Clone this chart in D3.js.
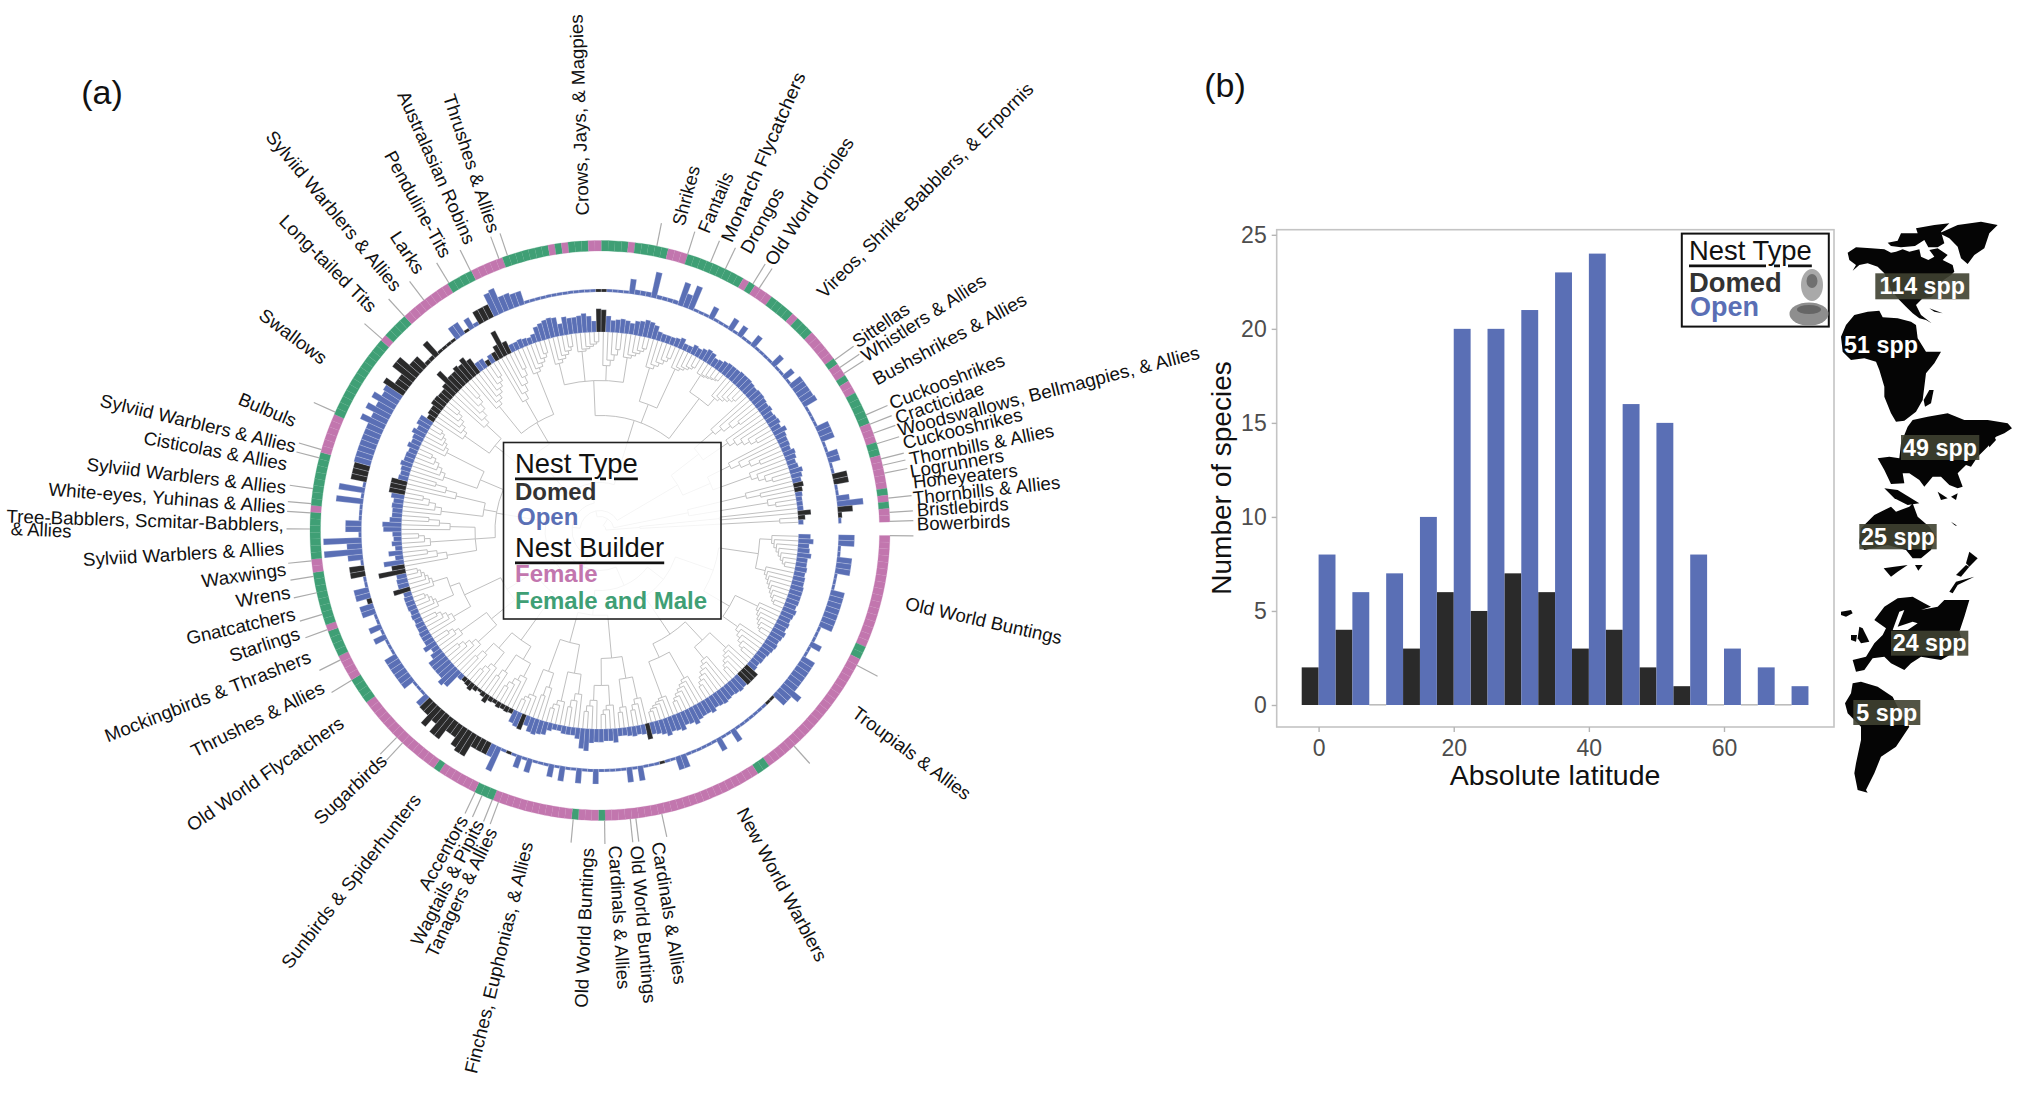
<!DOCTYPE html>
<html><head><meta charset="utf-8">
<script src="https://cdn.jsdelivr.net/npm/d3@7"></script>
<style>
html,body{margin:0;padding:0;background:#fff}
svg{display:block}
text{font-family:"Liberation Sans",Arial,sans-serif}
</style></head><body>
<svg id="c" width="2041" height="1103"></svg>
<script>
// ---------- panel (a): values per tip, clockwise from just below the gap ----------
const outerBar = [
16,16,3,3,15,15,15,3,3,3, 14,14,14,14,14,14,14,3,3,3,
12,3,3,14,14,14,14,14,14,23, 15,15,3,3,3,3,3,3,3,3,
3,14,3,3,14,3,3,3,3,3, 3,14,14,3,3,3,3,3,3,15,
3,15,3,3,3,3,3,15,3,3, 15,3,3,15,3,13,3,3,3,14,
3,13,3,3,3,26,13,13,13,13, 25,25,22,14,14,25,25,15,24,14,
14,13,3,3,3,13,13,13,13,13, 13,3,3,3,13,3,13,3,3,14,
14,5,15,15,3,3,15,15,3,15, 38,15,38,3,16,16,3,3,3,27,
3,26,3,16,16,16,17,17,17,17, 17,17,17,26,17,26,18,26,18,20,
24,14,14,26,26,14,14,4,4,18, 3,3,3,3,14,14,3,12,4,14,
14,14,24,26,16,16,14,14,3,3, 3,3,3,3,3,3,3,3,3,3,
3,3,3,3,3,3,3,15,5,5, 5,26,4,4,4,4,24,14,25,3,
3,3,13,3,3,3,13,3,12,3, 3,13,3,3,3,3,13,3,3,12,
3,14,14,14,14,15,3,3,3,3, 14,14,14,3,3,12,12,3,3,15,
15,3,3,13,26,15,4,3];
const innerBar = [
12,15,11,12,14,11,11,12,11,12, 12,13,13,13,13,12,14,13,12,13,
12,14,13,12,13,12,11,10,10,9, 10,15,15,15,14,15,14,13,14,15,
14,13,16,14,14,15,18,15,14,18, 16,15,18,15,13,12,16,10,9,10,
9,8,8,14,12,12,13,13,14,22, 20,11,8,8,8,6,6,8,13,14,
16,15,10,16,15,13,5,6,5,6, 4,5,9,5,3,5,8,6,5,6,
20,23,18,18,18,18,12,8,14,10, 10,10,9,9,8,9,8,9,9,9,
8,17,11,11,10,27,13,20,8,14, 7,10,8,9,18,19,12,10,10,11,
10,13,16,16,16,10,9,10,12,10, 10,9,12,10,11,14,11,14,14,8,
10,10,13,13,12,12,15,27,17,17, 20,18,22,17,10,10,6,9,9,14,
27,13,8,8,9,8,7,9,15,17, 19,20,19,12,18,16,16,17,19,16,
11,23,22,16,12,13,14,13,11,14, 15,17,16,14,9,8,8,8,9,11,
7,7,10,9,11,13,12,9,10,12, 13,13,13,14,14,14,13,12,13,13,
12,11,12,10,11,12,10,14,11,10, 10,9,12,11,9,10,13,11,9,10,
8,7,6,6,6,13,7,5];
const outerDomed = [[32,33],[55,55],[83,83],[87,100],[121,121],[126,127],[143,145],[160,173],[176,176],[179,181],[201,202],[259,260],[265,266]];
const innerDomed = [[31,33],[56,56],[83,83],[86,98],[121,121],[125,126],[142,144],[159,173],[176,176],[178,181],[201,202],[259,260],[265,266]];
const bothBuilders = [[17,18],[40,41],[66,66],[70,70],[83,85],[92,92],[107,110],[115,118],[120,127],[130,136],[138,145],[152,164],[166,169],[178,181],[187,193],[195,195],[197,199],[202,205],[207,211],[215,223],[225,225],[229,232],[234,236],[242,242],[245,245],[248,252],[256,257],[263,263],[265,265]];
const leaderAngles = [358.2,356.4,353.6,348.6,347,345.7,342.6,340.4,338.5,336.5,327.2,325.8,324,303.3,301.8,295.6,292.4,287.6,281.3,251.4,249.6,243.5,238.6,232.6,227.6,221.3,204.1,196.2,194.5,188.3,185.3,183.5,180.3,174,170.9,167.6,163.2,160,153.5,148.9,134.5,132.9,115.5,114,111.8,110.5,95.3,89.1,84,82.9,77.7,48,27.7,1];
const cladeNames = ["Crows, Jays, & Magpies","Thrushes & Allies","Australasian Robins","Penduline-Tits","Larks","Sylviid Warblers & Allies","Long-tailed Tits","Swallows","Bulbuls","Sylviid Warblers & Allies","Cisticolas & Allies","Sylviid Warblers & Allies","White-eyes, Yuhinas & Allies","Tree-Babblers, Scmitar-Babblers,","& Allies","Sylviid Warblers & Allies","Waxwings","Wrens","Gnatcatchers","Starlings","Mockingbirds & Thrashers","Thrushes & Allies","Old World Flycatchers","Sugarbirds","Sunbirds & Spiderhunters","Accentors","Wagtails & Pipits","Tanagers & Allies","Finches, Euphonias, & Allies","Old World Buntings","Cardinals & Allies","Old World Buntings","Cardinals & Allies","New World Warblers","Troupials & Allies","Old World Buntings","Shrikes","Fantails","Monarch Flycatchers","Drongos","Old World Orioles","Vireos, Shrike-Babblers, & Erpornis","Sittellas","Whistlers & Allies","Bushshrikes & Allies","Cuckooshrikes","Cracticidae","Woodswallows, Bellmagpies, & Allies","Cuckooshrikes","Thornbills & Allies","Logrunners","Honeyeaters","Thornbills & Allies","Bristlebirds","Bowerbirds"];
// reading start and end of each clade name
const cladeSpots = [[582.4,215.4,575.9,14.3],[449,94.6,494.4,232],[403,92,470.5,243],[389.4,152,446.6,256],[394.6,233,420.6,272],[269.7,133,398,288.6],[282.7,218,373.8,309],[261.5,312.5,325,360],[239.4,398,295.7,421.4],[100.6,400,295.7,446.4],[144,437.5,287,464],[86.7,464,286,487.5],[48.6,489,285.4,507],[6.5,516,284,525],[10.8,528.6,71.5,531],[83,559.6,284,548],[201.6,581,286,569],[236,601,290,592],[186.5,638.5,295,613.5],[230,656,299,633],[105.4,736.5,310,656],[192,752,323,686.5],[188.6,827,341.7,721],[316.6,821,383.8,757.7],[285,966,417,796],[423,888.5,463,817],[415.4,944,479,821],[430.6,955.8,492,829],[470.5,1073,527,842],[581,1007.7,587.6,848],[615,845.6,624,989],[636.8,845.6,650,1003],[658,842,680.7,984],[742,809,822.5,960],[854.6,710.6,969,795.5],[905.7,603,1061.8,638],[678,225,694,166],[703,232,728,173],[726,241,800,73],[745,252,779,189],[769,263.6,849,139],[820,294.6,1030,85.7],[854,343,907.5,307],[863,357,984,278.6],[874,380,1025,298],[890,403.6,1003.7,359],[895.7,418,983.4,387.5],[898,430,1199,352],[903,443,1022,414],[909.4,459,1053.7,430],[910,471.4,1003.7,455],[913,482,1017.4,470],[913,498,1060,482],[916.8,510,1008.5,503.6],[916.8,524,1010,520.7]];

// tree read by eye: [node radius, ...children]; an integer child is that many tips hung on a ladder
const s1=[120,[160,[172,8],[170,9]],[150,[175,7],[168,6]]];
const s2=[125,[150,[172,6],[165,7]],[140,[170,7],[178,6]]];
const s3=[128,[150,[172,4],[178,3]],[155,[175,4],[170,4]]];
const s4=[116,[145,[165,4],[175,4]],[150,[165,3],[178,4]]];
const s5=[135,[150,[165,5],[170,3]],[155,[172,4],[168,3]]];
const s6=[110,[140,[165,5],[172,4]],[150,[170,5],[160,[178,5],[175,6]]]];
const s7=[105,[125,[155,4],[170,4],[150,4]],[118,[160,5],[148,4]],[130,[165,6],[172,6]]];
const s8=[100,[135,[165,6],[155,6]],[125,[160,7],[150,6],[170,6]]];
const s9=[115,[150,[172,6],[180,6],[165,5],[175,6]],[135,[170,6],[178,6]],[165,[185,6],[175,6]]];
const s10=[90,[125,[150,5],[155,6]],[120,[145,5],[160,5]]];
const passerida=[40,[60,[80,s1,s2],[85,s3,s4]],[55,[78,s5,s6],s7]];
const treeSpec=[6,[14,[20,[28,passerida,[48,s8,s9]],s10],[90,[150,3],[170,3]]],[40,[120,2],[180,2]]];

// ---------- panel (b) ----------
const latBins  = [0,5,10,15,20,25,30,35,40,45,50,55,60,65,70];
const domedSpp = [2,4,0,3,6,5,7,6,3,4,2,1,0,0,0];
const openSpp  = [8,6,7,10,20,20,21,23,24,16,15,8,3,2,1];
const xTicks = [0,20,40,60];
const yTicks = [0,5,10,15,20,25];
const regionLabels = ["114 spp","51 spp","49 spp","25 spp","24 spp","5 spp"];

const BLUE="#5a6fb5",DARK="#2a2a2a",PINK="#c276ae",GREEN="#3f9f75",TREE="#c0c0c0";
const svg=d3.select("#c");
const cx=600,cy=530.5,rad=Math.PI/180;
const ang=d3.scaleLinear().domain([0,268]).range([1,358.3]);
const rOut=d3.scaleLinear().domain([0,60]).range([238.5,299]);
const rIn=d3.scaleLinear().domain([0,40]).range([198.5,239]);
const inRanges=(rs,i)=>rs.some(r=>i>=r[0]&&i<=r[1]);
const arc=d3.arc();
const wedge=(i,r0,r1)=>arc({innerRadius:r0,outerRadius:r1,startAngle:(ang(i)+90)*rad,endAngle:(ang(i+1)+90)*rad});
const pol=(th,r)=>[cx+r*Math.cos(th*rad),cy+r*Math.sin(th*rad)];

// ---- tree
let tipNo=0;const tp=d3.path();
function ladder(n,r){
  if(n===1)return {tip:tipNo++};
  const first={tip:tipNo++};
  const next=r+(193-r)/n;
  const rest=ladder(n-1,next);
  return {r,kids:[first,rest]};
}
function build(spec){
  const [r,...kids]=spec;
  const out=[];
  kids.forEach(k=>{
    if(typeof k==="number"){ out.push(k===1?{tip:tipNo++}:ladder(k,r)); }
    else out.push(build(k));
  });
  if(out.length===1)return out[0];
  return {r,kids:out};
}
const tree=build(treeSpec);
function angOf(n){ if(n.tip!==undefined){n.th=ang(n.tip+.5);return n.th;}
  n.kids.forEach(angOf);
  n.th=(n.kids[0].th+n.kids[n.kids.length-1].th)/2; return n.th;}
angOf(tree);
function drawNode(n){
  if(n.tip!==undefined)return;
  const a0=n.kids[0].th,a1=n.kids[n.kids.length-1].th;
  tp.moveTo(...pol(a0,n.r));
  tp.arc(cx,cy,n.r,a0*rad,a1*rad);
  n.kids.forEach(k=>{
    const r2=k.tip!==undefined?199:k.r;
    tp.moveTo(...pol(k.th,n.r));tp.lineTo(...pol(k.th,r2));
    drawNode(k);
  });
}
drawNode(tree);
svg.append("path").attr("d",tp.toString()).attr("fill","none").attr("stroke",TREE).attr("stroke-width",1);

// ---- tracks
const gRings=svg.append("g").attr("transform",`translate(${cx},${cy})`);
gRings.selectAll("path.i").data(innerBar).join("path").attr("class","i")
  .attr("d",(v,i)=>wedge(i,rIn(0),rIn(v)))
  .attr("fill",(v,i)=>inRanges(innerDomed,i)?DARK:BLUE).attr("stroke","#dfe3f1").attr("stroke-width",.25);
gRings.selectAll("path.o").data(outerBar).join("path").attr("class","o")
  .attr("d",(v,i)=>wedge(i,rOut(0),rOut(v)))
  .attr("fill",(v,i)=>inRanges(outerDomed,i)?DARK:BLUE).attr("stroke","#dfe3f1").attr("stroke-width",.25);
gRings.selectAll("path.b").data(d3.range(268)).join("path").attr("class","b")
  .attr("d",i=>wedge(i,279.5,290))
  .attr("fill",i=>inRanges(bothBuilders,i)?GREEN:PINK).attr("stroke",i=>inRanges(bothBuilders,i)?"#4ba47e":"#c682b5").attr("stroke-width",.25);

// ---- leaders
svg.append("g").selectAll("line").data(leaderAngles).join("line")
  .attr("x1",a=>pol(a,290)[0]).attr("y1",a=>pol(a,290)[1])
  .attr("x2",a=>pol(a,313.5)[0]).attr("y2",a=>pol(a,313.5)[1])
  .attr("stroke","#ababab").attr("stroke-width",1.2);

// ---- clade names
svg.append("g").selectAll("text").data(cladeNames).join("text")
  .text(d=>d)
  .attr("font-size",18.5).attr("fill","#111").attr("dominant-baseline","central")
  .attr("lengthAdjust","spacingAndGlyphs")
  .attr("textLength",(d,i)=>{const s=cladeSpots[i];return Math.hypot(s[2]-s[0],s[3]-s[1]);})
  .attr("transform",(d,i)=>{const s=cladeSpots[i];return `translate(${s[0]},${s[1]}) rotate(${Math.atan2(s[3]-s[1],s[2]-s[0])/rad})`;});

// ---- panel letters
svg.append("text").text("(a)").attr("x",102).attr("y",92).attr("font-size",34).attr("text-anchor","middle").attr("dominant-baseline","central").attr("fill","#111");
svg.append("text").text("(b)").attr("x",1225).attr("y",85).attr("font-size",34).attr("text-anchor","middle").attr("dominant-baseline","central").attr("fill","#111");

// ---- legend (a)
svg.append("rect").attr("x",503.5).attr("y",442.5).attr("width",217.5).attr("height",176.5)
  .attr("fill","#fff").attr("fill-opacity",.84).attr("stroke","#222").attr("stroke-width",1.6);
const legA=[["Nest Type",515,463,27.4,"#111",false],["Domed",515,491,24,"#333",true],["Open",517,516.5,24,BLUE,true],["Nest Builder",515,547,27.4,"#111",false],["Female",515,573,24,PINK,true],["Female and Male",515,600,24,GREEN,true]];
svg.append("g").selectAll("text").data(legA).join("text").text(d=>d[0])
  .attr("x",d=>d[1]).attr("y",d=>d[2]).attr("font-size",d=>d[3]).attr("fill",d=>d[4])
  .attr("font-weight",d=>d[5]?"bold":"normal").attr("dominant-baseline","central")
  .style("text-decoration",d=>d[5]?"none":"underline");

// ---------- panel (b) chart ----------
const x=d3.scaleLinear().domain([0,60]).range([1318.6,1724]);
const y=d3.scaleLinear().domain([0,25]).range([705,234.8]);
const panelX0=1276.7,panelX1=1834,panelY0=229.7,panelY1=727;
svg.append("rect").attr("x",panelX0).attr("y",panelY0).attr("width",panelX1-panelX0).attr("height",panelY1-panelY0)
  .attr("fill","#fff").attr("stroke","#c4c4c4").attr("stroke-width",1.6);
const gb=svg.append("g");
gb.selectAll("rect.d").data(latBins).join("rect").attr("class","d")
  .attr("x",d=>x(d-2.5)).attr("width",d=>x(d)-x(d-2.5))
  .attr("y",(d,i)=>domedSpp[i]?y(domedSpp[i]):y(0)-1).attr("height",(d,i)=>domedSpp[i]?y(0)-y(domedSpp[i]):1.6)
  .attr("fill",(d,i)=>domedSpp[i]?DARK:"#bdbdbd");
gb.selectAll("rect.o").data(latBins).join("rect").attr("class","o")
  .attr("x",d=>x(d)).attr("width",d=>x(d+2.5)-x(d))
  .attr("y",(d,i)=>y(openSpp[i])).attr("height",(d,i)=>y(0)-y(openSpp[i])).attr("fill",BLUE);
const ax=svg.append("g").attr("transform",`translate(0,${panelY1})`).call(d3.axisBottom(x).tickValues(xTicks).tickFormat(d3.format("d")).tickSize(5).tickPadding(6));
const ay=svg.append("g").attr("transform",`translate(${panelX0},0)`).call(d3.axisLeft(y).tickValues(yTicks).tickFormat(d3.format("d")).tickSize(5).tickPadding(5));
[ax,ay].forEach(g=>{g.select(".domain").remove();g.selectAll("line").attr("stroke","#b5b5b5").attr("stroke-width",1.4);
  g.selectAll("text").attr("font-size",23).attr("fill","#4d4d4d").attr("font-family","'Liberation Sans',Arial,sans-serif");});
ax.selectAll("text").attr("dy","0.8em");
svg.append("text").text("Absolute latitude").attr("x",1555).attr("y",775).attr("font-size",28.5).attr("text-anchor","middle").attr("dominant-baseline","central").attr("fill","#111");
svg.append("text").text("Number of species").attr("transform","translate(1221,478) rotate(-90)").attr("font-size",28).attr("text-anchor","middle").attr("dominant-baseline","central").attr("fill","#111");
// legend (b)
svg.append("rect").attr("x",1681.8).attr("y",233.6).attr("width",147).attr("height",93).attr("fill","#fff").attr("stroke","#111").attr("stroke-width",2);
const legB=[["Nest Type",1689,250,27.4,"#111",false],["Domed",1689,282,27.4,"#333",true],["Open",1690,307,27,BLUE,true]];
svg.append("g").selectAll("text").data(legB).join("text").text(d=>d[0])
  .attr("x",d=>d[1]).attr("y",d=>d[2]).attr("font-size",d=>d[3]).attr("fill",d=>d[4])
  .attr("font-weight",d=>d[5]?"bold":"normal").attr("dominant-baseline","central")
  .style("text-decoration",d=>d[5]?"none":"underline");
svg.append("ellipse").attr("cx",1812).attr("cy",285).attr("rx",11).attr("ry",16).attr("fill","#a9a9a9");
svg.append("ellipse").attr("cx",1812).attr("cy",281).attr("rx",5.5).attr("ry",7).attr("fill","#707070");
svg.append("ellipse").attr("cx",1809).attr("cy",314).attr("rx",19.5).attr("ry",11.5).attr("fill","#8e8e8e");
svg.append("ellipse").attr("cx",1809).attr("cy",309.5).attr("rx",12).attr("ry",4.5).attr("fill","#666");

// ---- continents (silhouettes traced by eye)
const toA=p=>[1841+p[0]/3,210+p[1]/3],toB=p=>[1841+p[0]/3,500+p[1]/3];
const shapesA=[
 [[20,128],[45,112],[90,115],[130,118],[150,128],[165,125],[185,118],[205,125],[235,118],[240,140],[262,150],[280,140],[265,120],[290,115],[320,135],[305,150],[335,165],[340,185],[330,195],[300,215],[290,240],[270,262],[245,265],[225,285],[240,315],[272,340],[255,330],[235,325],[215,310],[195,290],[175,270],[150,240],[130,190],[110,170],[80,160],[55,165],[35,182],[45,165],[25,150]],
 [[140,98],[170,92],[180,70],[230,70],[225,55],[280,45],[325,40],[300,65],[310,100],[290,112],[262,112],[250,90],[222,108],[180,112],[150,108]],
 [[295,70],[350,45],[420,35],[470,45],[445,70],[430,115],[400,135],[380,162],[360,145],[350,110],[325,85]],
 [[265,295],[305,310],[280,305]],
 [[40,315],[80,305],[115,302],[125,322],[170,325],[210,335],[225,345],[230,385],[255,425],[300,425],[280,460],[255,490],[250,530],[245,570],[225,605],[190,632],[165,635],[150,610],[130,560],[130,530],[115,480],[105,455],[70,445],[30,450],[5,425],[0,380],[15,345]],
 [[265,540],[278,540],[270,580],[252,590],[248,570]],
 [[215,630],[260,620],[320,610],[370,630],[440,630],[500,640],[513,655],[490,670],[465,680],[440,710],[410,740],[390,770],[375,765],[350,790],[365,830],[350,835],[325,825],[300,800],[275,800],[250,830],[235,810],[205,790],[185,790],[190,820],[150,822],[130,780],[110,745],[145,740],[175,745],[180,700],[200,650]],
 [[460,680],[465,690],[445,712],[442,700]],
 [[290,845],[320,865],[300,870]],[[330,860],[350,850],[345,870]],
 [[130,835],[170,840],[235,880],[200,885],[160,865]]
];
const shapesB=[
 [[60,85],[100,45],[150,20],[165,35],[205,20],[215,10],[230,50],[265,80],[285,110],[270,150],[240,175],[215,175],[195,150],[140,135],[70,150],[55,130]],
 [[222,195],[245,195],[232,212]],[[128,205],[160,200],[200,195],[170,215],[150,230]],[[330,65],[350,78],[340,75]],
 [[385,155],[410,175],[385,200],[375,190]],[[345,225],[375,195],[385,200],[360,230]],[[325,275],[345,245],[400,230],[350,255],[335,280]],
 [[35,480],[75,470],[100,430],[125,405],[135,385],[100,360],[130,320],[170,295],[215,290],[250,310],[270,320],[240,330],[290,320],[310,300],[385,300],[370,350],[355,395],[370,440],[300,480],[240,470],[210,490],[190,510],[150,490],[130,470],[95,475],[70,510],[45,515]],
 [[55,380],[65,385],[85,425],[60,430],[50,415]],[[30,405],[48,405],[45,425],[30,420]],[[0,335],[30,330],[35,340],[15,350],[0,345]],
 [[35,550],[60,545],[110,560],[155,590],[185,650],[205,680],[165,740],[120,770],[100,820],[75,870],[80,878],[50,870],[40,820],[45,790],[60,720],[60,680],[20,640],[12,610],[30,580]]
];
const baltic=[[175,335],[190,330],[170,380],[215,365],[230,370],[200,390],[155,390]];
const ln=d3.line().curve(d3.curveLinearClosed);
svg.append("g").selectAll("path.a").data(shapesA).join("path").attr("class","a").attr("d",d=>ln(d.map(toA))).attr("fill","#050505");
svg.append("g").selectAll("path.c").data(shapesB).join("path").attr("class","c").attr("d",d=>ln(d.map(toB))).attr("fill","#050505");
svg.append("path").attr("d",ln(baltic.map(toB))).attr("fill","#fff");
// ---- region count labels
const regionBoxes=[[1875.3,273.3,94,26],null,[1901,435,78.3,25],[1859.3,524,77.4,25.3],[1891,630.7,77.3,25],[1853.3,700,67,25]];
const regionCentres=[[1922.3,286.3],[1881,345],[1940,447.5],[1898,536.6],[1929.6,643.2],[1886.8,712.5]];
svg.append("g").selectAll("rect").data(regionBoxes.filter(Boolean)).join("rect")
  .attr("x",d=>d[0]).attr("y",d=>d[1]).attr("width",d=>d[2]).attr("height",d=>d[3]).attr("fill","#3f4131").attr("fill-opacity",.9);
svg.append("g").selectAll("text").data(regionLabels).join("text").text(d=>d)
  .attr("x",(d,i)=>regionCentres[i][0]).attr("y",(d,i)=>regionCentres[i][1])
  .attr("font-size",23.3).attr("font-weight","bold").attr("fill","#fff").attr("text-anchor","middle").attr("dominant-baseline","central");
</script>
</body></html>
